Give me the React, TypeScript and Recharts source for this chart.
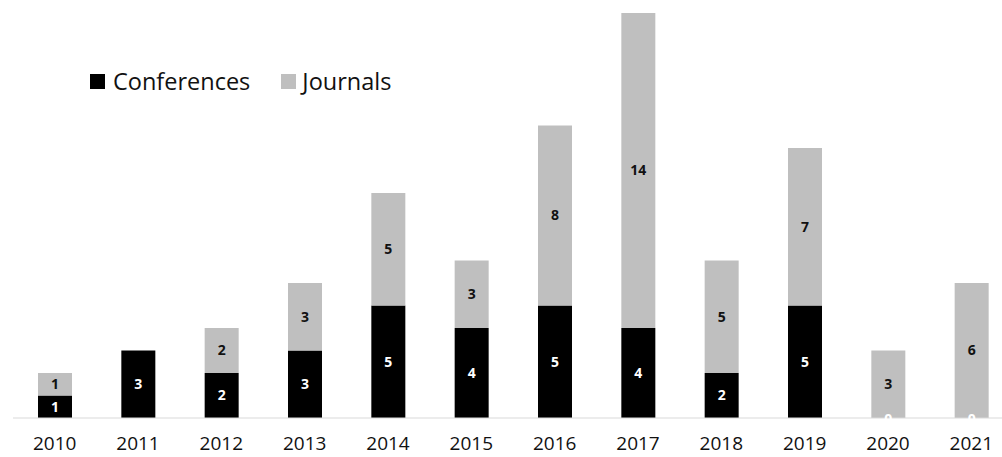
import { BarChart, Bar, XAxis, YAxis, Legend, LabelList } from 'recharts';

const years = ['2010', '2011', '2012', '2013', '2014', '2015', '2016', '2017', '2018', '2019', '2020', '2021'];
const conferences = [1, 3, 2, 3, 5, 4, 5, 4, 2, 5, 0, 0];
const journals = [1, 0, 2, 3, 5, 3, 8, 14, 5, 7, 3, 6];

const data = years.map((year, i) => ({
  year,
  Conferences: conferences[i],
  Journals: journals[i],
}));

const FONT = '"Open Sans", sans-serif';

const LegendBox = () => (
  <div style={{ display: 'flex', alignItems: 'center', fontFamily: FONT, fontSize: 23.5, color: '#111' }}>
    <span style={{ width: 15, height: 15, background: '#000', marginRight: 8 }} />
    <span style={{ marginRight: 31 }}>Conferences</span>
    <span style={{ width: 15, height: 15, background: '#bfbfbf', marginRight: 6 }} />
    <span>Journals</span>
  </div>
);

// zero-valued conference labels sit on the baseline, drawn above the journal bars
const ZeroLabel = (props: any) => {
  const { x, y, width, height, value } = props;
  if (value !== 0) return null;
  return (
    <text
      x={x + width / 2}
      y={y + height}
      textAnchor="middle"
      dominantBaseline="central"
      fill="#fff"
      fontFamily={FONT}
      fontSize={14}
      fontWeight={700}
    >
      0
    </text>
  );
};

export default function App() {
  return (
    <div style={{ position: 'absolute', left: 0, top: 0, width: 1002, height: 457, overflow: 'hidden', background: '#fff' }}>
      <BarChart
        width={1013}
        height={470}
        data={data}
        margin={{ top: 13, right: 0, left: 13, bottom: 0 }}
      >
        <XAxis
          dataKey="year"
          height={52}
          tickLine={false}
          axisLine={{ stroke: '#d9d9d9' }}
          tickMargin={13}
          tick={{ fontFamily: FONT, fontSize: 19, fill: '#111' }}
          interval={0}
        />
        <YAxis hide domain={[0, 18]} />
        <Legend
          layout="horizontal"
          verticalAlign="middle"
          align="center"
          wrapperStyle={{ top: 65, left: 90, width: 'auto' }}
          content={LegendBox}
        />
        <Bar dataKey="Conferences" stackId="a" fill="#000" barSize={34} isAnimationActive={false}>
          <LabelList
            dataKey="Conferences"
            position="center"
            fill="#fff"
            fontFamily={FONT}
            fontSize={14}
            fontWeight={700}
            formatter={(v: number) => (v ? v : '')}
          />
        </Bar>
        <Bar dataKey="Journals" stackId="a" fill="#bfbfbf" barSize={34} isAnimationActive={false}>
          <LabelList
            dataKey="Journals"
            position="center"
            fill="#111"
            fontFamily={FONT}
            fontSize={14}
            fontWeight={700}
            formatter={(v: number) => (v ? v : '')}
          />
          <LabelList dataKey="Conferences" content={ZeroLabel} />
        </Bar>
      </BarChart>
    </div>
  );
}
